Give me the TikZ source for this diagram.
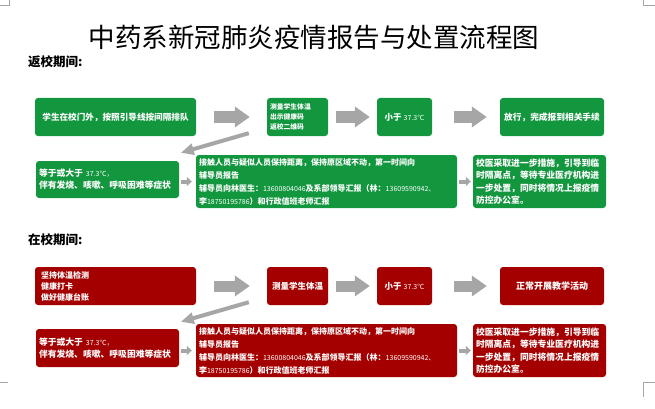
\documentclass[tikz,border=0pt]{standalone}
\usepackage{fontspec}
\newfontfamily\cjk{Noto Sans CJK SC}
\usetikzlibrary{calc,arrows.meta}
\definecolor{boxgreen}{RGB}{18,150,62}
\definecolor{boxred}{RGB}{165,0,0}
\definecolor{arrgray}{RGB}{166,166,166}
\newcommand{\num}[1]{{\mdseries\fontsize{7}{8}\selectfont #1}}

\begin{document}
\begin{tikzpicture}[x=1pt,y=-1pt,
		gbox/.style={fill=boxgreen,rounded corners=3pt,text=white,inner sep=3pt,font=\cjk\bfseries},
		rbox/.style={gbox,fill=boxred},
		fs/.style 2 args={font=\cjk\bfseries\fontsize{#1}{#2}\selectfont},
		bigarrow/.style={arrgray,line width=11pt,-{Triangle[width=20pt,length=15pt]}},
		midarrow/.style={arrgray,line width=4pt,-{Triangle[width=11pt,length=13pt]}},
		smallarrow/.style={arrgray,line width=4pt,-{Triangle[width=9pt,length=5pt]}},
		cropline/.style={black!35,line width=0.8pt}]
			\useasboundingbox (0,0) rectangle (655,409);
			\draw[cropline] (0,5) -- (9,5) -- (9,0);
			\draw[cropline] (643,0) -- (643,5) -- (655,5);
			\draw[cropline] (0,382) -- (8,382);
			\draw[cropline] (655,382) -- (643,382) -- (643,397);
			\node (title) at (314,37) {\cjk\fontsize{26.5}{30}\selectfont 中药系新冠肺炎疫情报告与处置流程图};
			\node[anchor=west,inner sep=0pt] (head1) at (28,62) {\cjk\bfseries\fontsize{12.5}{14}\selectfont 返校期间:};
			\node[anchor=west,inner sep=0pt] (head2) at (28,240) {\cjk\bfseries\fontsize{12.5}{14}\selectfont 在校期间:};
			\node[gbox,fs={8.6}{11},minimum width=161pt,minimum height=38pt] (g1) at (115.5,117) {学生在校门外，按照引导线按间隔排队};
			\node[gbox,fs={6.8}{10},minimum height=38pt,text width=55pt,align=left] (g2) at (297.5,117) {测量学生体温\\出示健康码\\返校二维码};
			\node[gbox,fs={8.5}{11},minimum width=55pt,minimum height=38pt] (g3) at (404.5,117) {小于 \num{37.3℃}};
			\node[gbox,fs={8.7}{11},minimum width=104pt,minimum height=38pt] (g4) at (552,117) {放行，完成报到相关手续};
			\node[gbox,fs={8.8}{12},minimum height=37pt,text width=137pt,align=left] (g5) at (107.5,179.5) {等于或大于 \num{37.3℃，}\\伴有发烧、咳嗽、呼吸困难等症状};
			\node[gbox,fs={8}{13},minimum height=53pt,text width=255pt,align=left] (g6) at (326.5,181.5) {接触人员与疑似人员保持距离，保持原区域不动，第一时间向\\辅导员报告\\辅导员向林医生：\num{13600804046}及系部领导汇报（林：\num{13609590942、}\\李\num{18750195786}）和行政值班老师汇报};
			\node[gbox,fs={8.8}{12.5},minimum height=53pt,text width=127pt,align=left] (g7) at (539.5,181.5) {校医采取进一步措施，引导到临\\时隔离点，等待专业医疗机构进\\一步处置，同时将情况上报疫情\\防控办公室。};
			\node[rbox,fs={8}{11},inner xsep=6pt,minimum height=38pt,text width=149pt,align=left] (r1) at (115.5,286) {坚持体温检测\\健康打卡\\做好健康台账};
			\node[rbox,fs={8.5}{11},minimum width=61pt,minimum height=38pt] (r2) at (297.5,286) {测量学生体温};
			\node[rbox,fs={8.5}{11},minimum width=55pt,minimum height=38pt] (r3) at (404.5,286) {小于 \num{37.3℃}};
			\node[rbox,fs={9}{11},minimum width=104pt,minimum height=38pt] (r4) at (552,286) {正常开展教学活动};
			\node[rbox,fs={8.8}{12},minimum height=38pt,text width=137pt,align=left] (r5) at (107.5,348) {等于或大于 \num{37.3℃，}\\伴有发烧、咳嗽、呼吸困难等症状};
			\node[rbox,fs={8}{13},minimum height=53pt,text width=255pt,align=left] (r6) at (326.5,350.5) {接触人员与疑似人员保持距离，保持原区域不动，第一时间向\\辅导员报告\\辅导员向林医生：\num{13600804046}及系部领导汇报（林：\num{13609590942、}\\李\num{18750195786}）和行政值班老师汇报};
			\node[rbox,fs={8.8}{12.5},minimum height=53pt,text width=127pt,align=left] (r7) at (539.5,350.5) {校医采取进一步措施，引导到临\\时隔离点，等待专业医疗机构进\\一步处置，同时将情况上报疫情\\防控办公室。};
			\foreach \a/\b/\s/\e in {g1/g2/18/17,g2/g3/8/7,g3/g4/22/13,r1/r2/18/17,r2/r3/8/7,r3/r4/22/13}{
				\draw[bigarrow,shorten <=\s pt,shorten >=\e pt] (\a.east) -- (\b.west);
			}
			\foreach \a/\b in {g2/g6,r2/r6}{
				\draw[midarrow] ($(\a.south west)+(-18,-3)$) -- ($(\b.north west)+(-15,-2)$);
			}
			\draw[smallarrow,shorten <=2pt,shorten >=4pt] (g6.west -| g5.east) -- (g6.west);
			\draw[smallarrow,shorten <=2pt,shorten >=2pt] (g6.east) -- (g7.west);
			\draw[smallarrow,shorten <=2pt,shorten >=4pt] (r6.west -| r5.east) -- (r6.west);
			\draw[smallarrow,shorten <=2pt,shorten >=2pt] (r6.east) -- (r7.west);
		\end{tikzpicture}
\end{document}
